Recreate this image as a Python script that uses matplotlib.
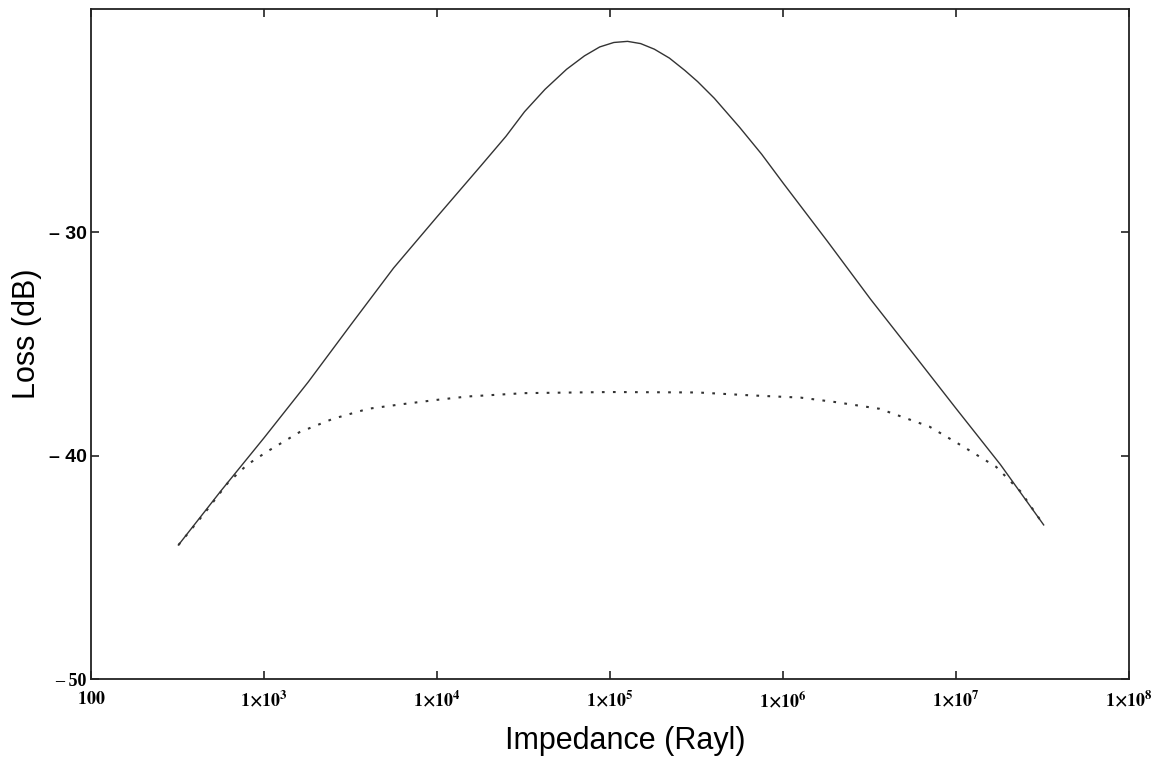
import matplotlib
matplotlib.use("Agg")
import matplotlib.pyplot as plt

# values (impedance in Rayl, loss in dB)
z_solid = [3.2e2, 5.6e2, 1e3, 1.8e3, 3.2e3, 5.6e3, 1e4, 1.8e4, 2.5e4, 3.2e4,
           4.2e4, 5.6e4, 7.1e4, 8.7e4, 1.05e5, 1.26e5, 1.5e5, 1.8e5, 2.2e5, 2.7e5,
           3.2e5, 4e5, 5.6e5, 7.5e5, 1e6, 1.8e6, 3.2e6, 5.6e6, 1e7, 1.8e7, 3.2e7]
loss_solid = [-44.0, -41.6, -39.2, -36.7, -34.1, -31.6, -29.3, -27.0, -25.7, -24.6,
              -23.6, -22.7, -22.1, -21.7, -21.5, -21.45, -21.55, -21.8, -22.2, -22.75,
              -23.25, -24.0, -25.3, -26.5, -27.8, -30.4, -33.0, -35.4, -37.9, -40.4, -43.1]

z_dotted = [3.2e2, 4.5e2, 6.2e2, 8.0e2, 1.05e3, 1.6e3, 2.5e3, 4.0e3, 6.2e3, 1e4,
            1.5e4, 3.2e4, 1e5, 3.2e5, 6.5e5, 1.26e6, 2e6, 3.6e6, 7e6, 1.1e7,
            1.7e7, 2.35e7, 3.2e7]
loss_dotted = [-44.0, -42.6, -41.2, -40.4, -39.8, -38.95, -38.35, -37.9, -37.7, -37.5,
               -37.35, -37.2, -37.15, -37.17, -37.3, -37.4, -37.6, -37.9, -38.7, -39.6,
               -40.5, -41.6, -43.1]

x_ticks = [1e2, 1e3, 1e4, 1e5, 1e6, 1e7, 1e8]
x_labels = [r"$\mathbf{100}$"] + [r"$\mathbf{1{\times}10^{%d}}$" % n for n in range(3, 9)]
y_ticks = [-50, -40, -30]
y_labels = ["\u2013 50", "\u2013 40", "\u2013 30"]

plt.rcParams["mathtext.fontset"] = "stix"

fig = plt.figure(figsize=(11.64, 7.67), dpi=100)
ax = fig.add_axes([0.0782, 0.1147, 0.892, 0.8736])

ax.plot(z_solid, loss_solid, color="#333333", lw=1.0)
ax.plot(z_dotted, loss_dotted, color="#333333", lw=1.5, linestyle=(0, (1.3, 4.0)))

ax.set_xscale("log")
ax.set_xlim(1e2, 1e8)
ax.set_ylim(-50, -20)
ax.minorticks_off()

ax.set_xticks(x_ticks)
ax.set_xticklabels(x_labels, fontsize=13)
ax.set_yticks(y_ticks)
ax.set_yticklabels(y_labels, fontfamily="Liberation Sans", fontweight="bold", fontsize=14)
# the bottom label is drawn in the serif face in the original
lab50 = ax.get_yticklabels()[0]
lab50.set_fontfamily("Liberation Serif")
lab50.set_fontsize(13)

ax.tick_params(axis="both", direction="in", length=6, width=1.2, color="#222222",
               top=True, right=True)
ax.tick_params(axis="x", pad=8)
ax.tick_params(axis="y", pad=3)

for s in ax.spines.values():
    s.set_linewidth(1.3)
    s.set_color("#222222")

ax.set_xlabel("Impedance (Rayl)", fontfamily="Liberation Sans", fontsize=22)
ax.set_ylabel("Loss (dB)", fontfamily="Liberation Sans", fontsize=22)
ax.xaxis.set_label_coords(0.515, -0.07)
ax.yaxis.set_label_coords(-0.047, 0.515)

fig.savefig("out.png", dpi=100)
